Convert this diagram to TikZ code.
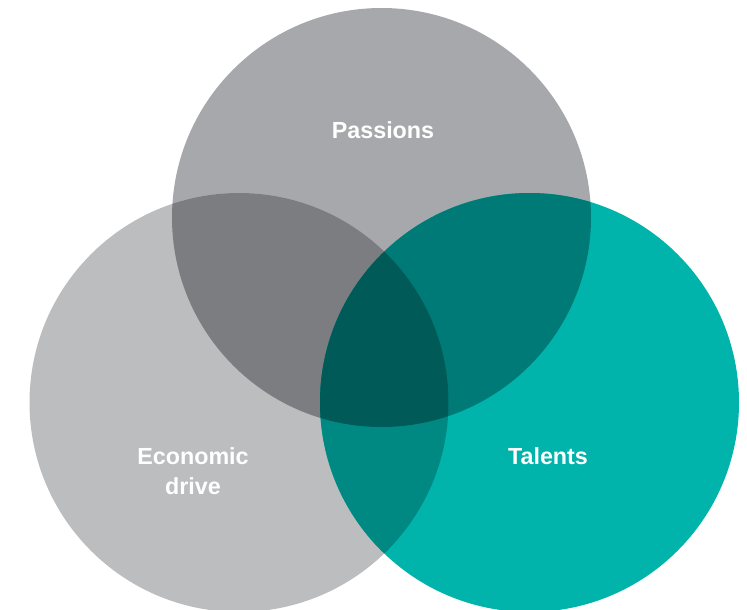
\documentclass[tikz,border=0pt]{standalone}
\usepackage{fontspec}
\setmainfont{Liberation Sans}
\definecolor{passgray}{HTML}{A7A8AB}
\definecolor{econgray}{HTML}{BCBDBF}
\definecolor{talteal}{HTML}{00B4AC}
\definecolor{passecon}{HTML}{7C7D81}
\definecolor{passtal}{HTML}{007A76}
\definecolor{econtal}{HTML}{008983}
\definecolor{allthree}{HTML}{005A57}
\begin{document}
\begin{tikzpicture}[x=1pt,y=-1pt,
    venn label/.style={text=white,font=\fontsize{23.3}{29.5}\selectfont\bfseries,
      align=center,inner sep=0pt,anchor=base}]
      \useasboundingbox (0,0) rectangle (747,610);
      \def\rad{209.5pt}
      \coordinate (pass) at (381.5,217.5);
      \coordinate (econ) at (239,402.5);
      \coordinate (tal) at (529.5,402.5);
      \fill[passgray] (pass) circle[radius=\rad];
      \fill[econgray] (econ) circle[radius=\rad];
      \fill[talteal] (tal) circle[radius=\rad];
      \begin{scope}
        \clip (pass) circle[radius=\rad];
        \fill[passecon] (econ) circle[radius=\rad];
        \fill[passtal] (tal) circle[radius=\rad];
      \end{scope}
      \begin{scope}
        \clip (econ) circle[radius=\rad];
        \fill[econtal] (tal) circle[radius=\rad];
      \end{scope}
      \begin{scope}
        \clip (pass) circle[radius=\rad];
        \clip (econ) circle[radius=\rad];
        \fill[allthree] (tal) circle[radius=\rad];
      \end{scope}
      \node[venn label] (passions) at (383,138.5) {Passions};
      \node[venn label] (economic) at (193,494) {Economic\\drive};
      \node[venn label] (talents) at (548,464.5) {Talents};
    \end{tikzpicture}
\end{document}
